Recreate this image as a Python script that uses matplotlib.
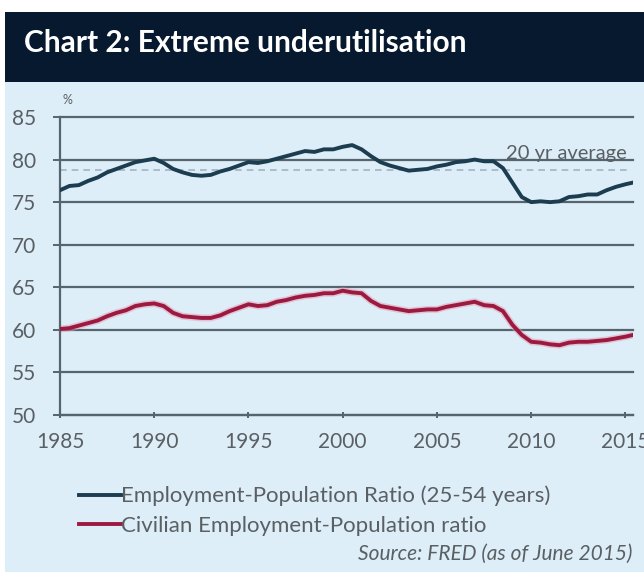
import matplotlib
matplotlib.use("Agg")
import matplotlib.pyplot as plt
from matplotlib.patches import Rectangle

# half-yearly readings, 1985 - mid 2015
years = [1985.0 + 0.5 * i for i in range(61)] + [2015.4]

prime_age = [76.4, 76.9, 77.0, 77.5, 77.9, 78.5, 78.9, 79.3, 79.7, 79.9,
             80.1, 79.6, 78.9, 78.5, 78.2, 78.1, 78.2, 78.6, 78.9, 79.3,
             79.7, 79.6, 79.8, 80.1, 80.4, 80.7, 81.0, 80.9, 81.2, 81.2,
             81.5, 81.7, 81.2, 80.4, 79.7, 79.3, 79.0, 78.7, 78.8, 78.9,
             79.2, 79.4, 79.7, 79.8, 80.0, 79.8, 79.8, 79.0, 77.3, 75.6,
             75.0, 75.1, 75.0, 75.1, 75.6, 75.7, 75.9, 75.9, 76.4, 76.8,
             77.1, 77.3]

civilian = [60.1, 60.2, 60.5, 60.8, 61.1, 61.6, 62.0, 62.3, 62.8, 63.0,
            63.1, 62.8, 62.0, 61.6, 61.5, 61.4, 61.4, 61.7, 62.2, 62.6,
            63.0, 62.8, 62.9, 63.3, 63.5, 63.8, 64.0, 64.1, 64.3, 64.3,
            64.6, 64.4, 64.3, 63.4, 62.8, 62.6, 62.4, 62.2, 62.3, 62.4,
            62.4, 62.7, 62.9, 63.1, 63.3, 62.9, 62.8, 62.2, 60.6, 59.4,
            58.6, 58.5, 58.3, 58.2, 58.5, 58.6, 58.6, 58.7, 58.8, 59.0,
            59.2, 59.4]

avg_20yr = 78.8
yticks = [50, 55, 60, 65, 70, 75, 80, 85]
xticks = [1985, 1990, 1995, 2000, 2005, 2010, 2015]

navy = "#06192e"
panel = "#ddeef8"
grid_c = "#56646e"
text_c = "#5a5f63"
blue_c = "#1c3c50"
red_c = "#9c1a40"

plt.rcParams["font.family"] = ["Lato", "DejaVu Sans"]

fig = plt.figure(figsize=(6.44, 5.72), dpi=100)
fig.patch.set_facecolor("white")
# panel + title bar
fig.add_artist(Rectangle((5 / 644, 0), 1, 1 - 12 / 572, transform=fig.transFigure,
                         facecolor=panel, edgecolor="none", zorder=0))
fig.add_artist(Rectangle((5 / 644, 1 - 82 / 572), 1, 70 / 572, transform=fig.transFigure,
                         facecolor=navy, edgecolor="none", zorder=1))
fig.text(24 / 644, 1 - 43 / 572, "Chart 2: Extreme underutilisation", color="white",
         fontsize=21.5, fontweight="bold", va="center", ha="left")

ax = fig.add_axes([60 / 644, 1 - 415 / 572, (633 - 60) / 644, (415 - 117) / 572])
ax.set_facecolor("none")
ax.set_xlim(1985, 2015.4)
ax.set_ylim(50, 85)

for y in yticks:
    ax.axhline(y, color=grid_c, lw=1.6, zorder=1, clip_on=False)
ax.axhline(avg_20yr, xmax=0.99, color="#9fb4c3", lw=1.2, ls=(0, (4, 3)), zorder=1)
ax.text(2015.05, avg_20yr + 0.9, "20 yr average", color=text_c, fontsize=14.5,
        ha="right", va="bottom")

# soft halo under the civilian line
ax.plot(years, civilian, color="#e79ab2", lw=5, alpha=0.5, zorder=2, solid_capstyle="round")
ax.plot(years, prime_age, color=blue_c, lw=2.8, zorder=3,
        label="Employment-Population Ratio (25-54 years)")
ax.plot(years, civilian, color=red_c, lw=2.8, zorder=3,
        label="Civilian Employment-Population ratio")

for side in ["top", "right"]:
    ax.spines[side].set_visible(False)
for side in ["left", "bottom"]:
    ax.spines[side].set_color(grid_c)
    ax.spines[side].set_linewidth(1.6)

ax.set_yticks(yticks)
ax.set_xticks(xticks)
ax.tick_params(axis="both", colors=grid_c, labelcolor=text_c, labelsize=15,
               length=5, width=1.4)
ax.tick_params(axis="x", direction="inout", pad=10)
ax.tick_params(axis="y", direction="out", pad=12)
ax.text(0.005, 1.045, "%", transform=ax.transAxes, color=text_c, fontsize=9, ha="left")

leg = fig.legend(loc="upper left", bbox_to_anchor=(70 / 644, 1 - 477 / 572),
                 frameon=False, fontsize=16, handlelength=1.9, handletextpad=0.0,
                 labelspacing=0.42, borderaxespad=0)
for t in leg.get_texts():
    t.set_color(text_c)

fig.text(632 / 644, 1 - 554 / 572, "Source: FRED (as of June 2015)", color=text_c,
         fontsize=15, style="italic", ha="right", va="center")

fig.savefig("out.png", dpi=100, facecolor=fig.get_facecolor())
